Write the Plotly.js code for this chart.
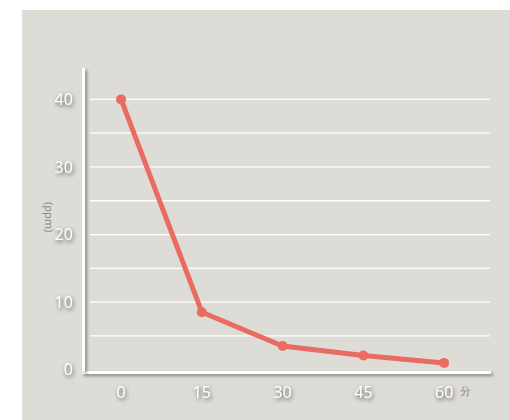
<!DOCTYPE html>
<html>
<head>
<meta charset="utf-8">
<script src="https://cdn.plot.ly/plotly-3.0.1.min.js"></script>
<style>
  html, body { margin: 0; padding: 0; background: #ffffff; }
  #chart { position: absolute; left: 22px; top: 10px; width: 488px; height: 410px; }
  #chart .xtick text, #chart .ytick text {
    filter: drop-shadow(1px 2px 2px rgba(0,0,0,0.6));
  }
  #chart path.xlines-above, #chart path.ylines-above {
    filter: drop-shadow(2px 2px 1.5px rgba(0,0,0,0.4));
  }
</style>
</head>
<body>
<div id="chart"></div>
<script>
const minutes = [0, 15, 30, 45, 60];
const ppm = [40, 8.5, 3.5, 2.1, 1.0];
const yTickVals = [0, 10, 20, 30, 40];
const yTickText = ['0', '10', '20', '30', '40'];
const xUnit = '分';
const yUnit = '(ppm)';

const trace = {
  x: minutes,
  y: ppm,
  type: 'scatter',
  mode: 'lines+markers',
  line: { color: '#e96b62', width: 5 },
  marker: { color: '#e96b62', size: 10 },
  hoverinfo: 'skip'
};

const layout = {
  width: 488,
  height: 410,
  margin: { l: 63, r: 19, t: 58, b: 49 },
  paper_bgcolor: '#dddcd7',
  plot_bgcolor: '#dddcd7',
  showlegend: false,
  font: { family: 'Noto Sans, sans-serif', color: '#ffffff', size: 16 },
  xaxis: {
    range: [-6.7, 68.7],
    tickvals: minutes,
    ticktext: minutes.map(String),
    showgrid: false,
    zeroline: false,
    showline: true,
    linecolor: '#ffffff',
    linewidth: 3,
    ticks: '',
    ticklabelstandoff: 5,
    tickfont: { size: 16, color: '#ffffff' },
    fixedrange: true
  },
  yaxis: {
    range: [-0.2, 44.65],
    tickvals: yTickVals,
    ticktext: yTickText,
    showgrid: false,
    zeroline: false,
    showline: true,
    linecolor: '#ffffff',
    linewidth: 3,
    ticks: '',
    ticklabelstandoff: 6,
    tickfont: { size: 16, color: '#ffffff' },
    fixedrange: true
  },
  shapes: [5, 10, 15, 20, 25, 30, 35, 40].map(v => ({
    type: 'line', xref: 'paper', yref: 'y',
    x0: 0.012, x1: 0.997, y0: v, y1: v,
    line: { color: '#ffffff', width: 1.3 },
    layer: 'below'
  })),
  annotations: [
    {
      text: xUnit, xref: 'paper', yref: 'paper',
      x: 0.936, y: -0.063, xanchor: 'center', yanchor: 'middle',
      showarrow: false, font: { size: 11, color: '#8a8a86' }
    },
    {
      text: yUnit, xref: 'paper', yref: 'paper',
      x: -0.086, y: 0.508, xanchor: 'center', yanchor: 'middle',
      textangle: 90,
      showarrow: false, font: { size: 11, color: '#8a8a86' }
    }
  ]
};

Plotly.newPlot('chart', [trace], layout, { displayModeBar: false, staticPlot: true });
</script>
</body>
</html>
